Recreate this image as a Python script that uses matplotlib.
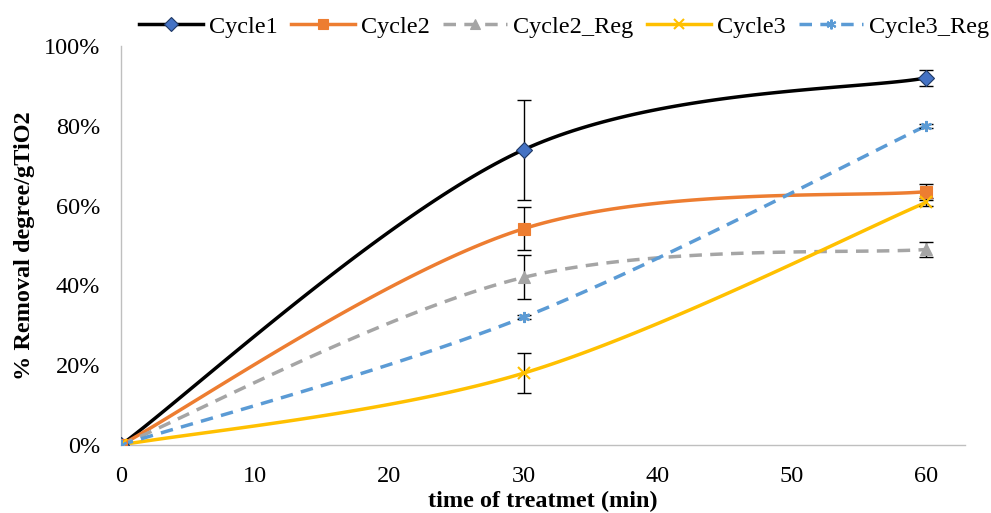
import numpy as np
import matplotlib
matplotlib.use("Agg")
import matplotlib.pyplot as plt

plt.rcParams['font.family'] = ['Liberation Serif', 'DejaVu Serif']

x = [0, 30, 60]
names = ["Cycle1", "Cycle2", "Cycle2_Reg", "Cycle3", "Cycle3_Reg"]
cycle1 = [0, 74, 92]
cycle2 = [0, 54.2, 63.5]
cycle2_reg = [0, 42, 49]
cycle3 = [0, 18, 60.8]
cycle3_reg = [0, 32, 80]
err1 = [0, 12.5, 2]
err2 = [0, 5.4, 2]
err2_reg = [0, 5.5, 2]
err3 = [0, 5, 1]
err3_reg = [0, 0.5, 0.5]

colors = ["#000000", "#ED7D31", "#A5A5A5", "#FFC000", "#5B9BD5"]
markers = ["D", "s", "^", "x", (6, 2, 0)]
dash = (0, (3.6, 2.4))
styles = ["-", "-", dash, "-", dash]
mfc = ["#4472C4", "#ED7D31", "#A5A5A5", "#FFC000", "#5B9BD5"]
series = [cycle1, cycle2, cycle2_reg, cycle3, cycle3_reg]
errs = [err1, err2, err2_reg, err3, err3_reg]


def smooth(xs, ys, n=60):
    P = np.column_stack([xs, ys]).astype(float)
    P = np.vstack([P[0], P, P[-1]])
    out = []
    for i in range(1, len(P) - 2):
        p0, p1, p2, p3 = P[i - 1], P[i], P[i + 1], P[i + 2]
        c1 = p1 + (p2 - p0) / 6
        c2 = p2 - (p3 - p1) / 6
        t = np.linspace(0, 1, n)[:, None]
        b = (1 - t) ** 3 * p1 + 3 * (1 - t) ** 2 * t * c1 + 3 * (1 - t) * t ** 2 * c2 + t ** 3 * p2
        out.append(b)
    b = np.vstack(out)
    return b[:, 0], b[:, 1]


fig = plt.figure(figsize=(9.91, 5.13), dpi=100)
ax = fig.add_axes([0.1221, 0.1326, 0.8517, 0.7777])

LW = 2.5
for name, ys, e, c, m, ls, fc in zip(names, series, errs, colors, markers, styles, mfc):
    sx, sy = smooth(x, ys)
    ax.plot(sx, sy, color=c, lw=LW, ls=ls, zorder=2)
    ax.errorbar(x, ys, yerr=e, fmt="none", ecolor="black", elinewidth=1, capsize=5, capthick=1, zorder=3)
    ec = "#1F3864" if name == "Cycle1" else c
    ms = 8.5 if m in ("D", "s") else 8
    mew = 1.5 if m in ("x", (6, 2, 0)) else 0.8
    ax.plot(x, ys, ls="none", marker=m, ms=ms, mfc=fc, mec=ec, mew=mew, zorder=4)
    ax.plot([], [], color=c, lw=LW, ls=ls, marker=m, ms=ms - 1, mfc=fc, mec=ec, mew=mew, label=name)

ax.set_xlim(0, 62.9)
ax.set_ylim(0, 100)
ax.set_xticks([0, 10, 20, 30, 40, 50, 60])
ax.set_yticks([0, 20, 40, 60, 80, 100])
ax.set_yticklabels([f"{v}%" for v in [0, 20, 40, 60, 80, 100]])
ax.tick_params(length=0, labelsize=17.5)
ax.tick_params(axis="x", pad=15)
ax.tick_params(axis="y", pad=15)
for s in ["top", "right"]:
    ax.spines[s].set_visible(False)
for s in ["left", "bottom"]:
    ax.spines[s].set_color("#BFBFBF")
    ax.spines[s].set_linewidth(1)

ax.set_xlabel("time of treatmet (min)", fontsize=17.5, fontweight="bold", labelpad=3)
ax.set_ylabel("% Removal degree/gTiO2", fontsize=17.5, fontweight="bold", labelpad=6)

handles, labels = ax.get_legend_handles_labels()
fig.legend(handles[:5], labels[:5], loc="upper right", bbox_to_anchor=(1.013, 0.998), ncol=5, frameon=False,
           fontsize=17.5, handlelength=2.63, columnspacing=0.55, handletextpad=0.25, borderaxespad=0.2)

fig.savefig("out.png", dpi=100)
